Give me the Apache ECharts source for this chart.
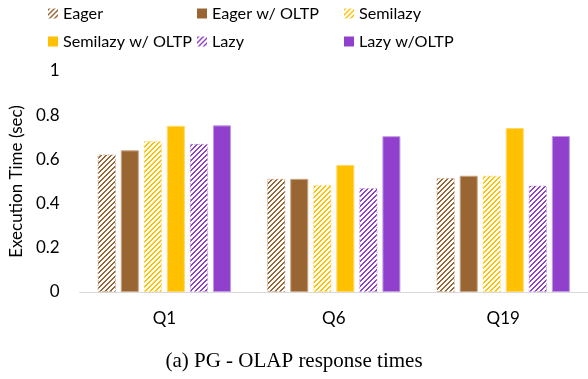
<!DOCTYPE html>
<html><head><meta charset="utf-8">
<script src="https://cdn.jsdelivr.net/npm/echarts@6/dist/echarts.min.js"></script>
<style>html,body{margin:0;padding:0;background:#fff}#c{width:588px;height:379px}</style>
</head><body><div id="c"></div>
<script>
const categories = ['Q1', 'Q6', 'Q19'];
const seriesNames = ['Eager', 'Eager w/ OLTP', 'Semilazy', 'Semilazy w/ OLTP', 'Lazy', 'Lazy w/OLTP'];
const eager = [0.622, 0.512, 0.515];
const eagerOltp = [0.641, 0.512, 0.526];
const semilazy = [0.683, 0.484, 0.526];
const semilazyOltp = [0.752, 0.575, 0.742];
const lazy = [0.670, 0.470, 0.481];
const lazyOltp = [0.754, 0.705, 0.706];
const yTicks = [0, 0.2, 0.4, 0.6, 0.8, 1];
const caption = '(a) PG - OLAP response times';

const values = [eager, eagerOltp, semilazy, semilazyOltp, lazy, lazyOltp];
const baseColors = ['#996633', '#996633', '#FFC000', '#FFC000', '#9040CC', '#9040CC'];
const borderColors = ['#c8a07c', '#c8a582', '#ffd966', '#ffd966', '#c09ae0', '#c09ae0'];
const hatched = [true, false, true, false, true, false];

function hatch(color) {
  const s = 5;
  const c = document.createElement('canvas');
  c.width = s; c.height = s;
  const ctx = c.getContext('2d');
  ctx.fillStyle = '#fff'; ctx.fillRect(0, 0, s, s);
  ctx.fillStyle = color;
  for (let y = 0; y < s; y++) {
    for (let x = 0; x < s; x++) {
      if ((x + y) % s < 2) ctx.fillRect(x, y, 1, 1);
    }
  }
  return { image: c, repeat: 'repeat' };
}

const font = 'Lato';
const series = seriesNames.map((n, i) => ({
  name: n,
  type: 'bar',
  data: values[i],
  barWidth: 18,
  barGap: '28%',
  itemStyle: hatched[i]
    ? { color: hatch(baseColors[i]), borderColor: borderColors[i], borderWidth: 0.8, borderType: [2, 2] }
    : { color: baseColors[i], borderColor: borderColors[i], borderWidth: 1 }
}));

const legendCol = (items, left) => ({
  data: items, left: left, top: 5, orient: 'vertical', itemWidth: 10, itemHeight: 10,
  itemGap: 11, icon: 'rect', padding: 0,
  textStyle: { fontFamily: font, fontSize: 16.2, color: '#000', lineHeight: 17, padding: [0, 0, 0, 0] },
  itemStyle: { borderWidth: 0 }
});

const chart = echarts.init(document.getElementById('c'), null, { renderer: 'canvas' });
chart.setOption({
  animation: false,
  backgroundColor: '#fff',
  grid: { left: 75, right: 0, top: 71, bottom: 87 },
  legend: [
    legendCol([seriesNames[0], seriesNames[3]], 48),
    legendCol([seriesNames[1], seriesNames[4]], 197),
    legendCol([seriesNames[2], seriesNames[5]], 344)
  ],
  title: {
    text: caption, left: 'center', top: 346,
    textStyle: { fontFamily: 'Liberation Serif', fontSize: 21, fontWeight: 'normal', color: '#000' }
  },
  xAxis: {
    type: 'category', data: categories,
    axisLine: { lineStyle: { color: '#d9d9d9', width: 1 } },
    axisTick: { show: false },
    axisLabel: { fontFamily: font, fontSize: 17, color: '#000', margin: 18 }
  },
  yAxis: {
    type: 'value', min: 0, max: 1, interval: 0.2,
    name: 'Execution Time (sec)', nameLocation: 'middle', nameGap: 48,
    nameTextStyle: { fontFamily: font, fontSize: 17, color: '#000' },
    axisLine: { show: false }, axisTick: { show: false }, splitLine: { show: false },
    axisLabel: { fontFamily: font, fontSize: 17, color: '#000', margin: 20,
      formatter: v => yTicks.includes(Math.round(v * 10) / 10) ? String(Math.round(v * 10) / 10) : '' }
  },
  series: series
});
</script></body></html>
